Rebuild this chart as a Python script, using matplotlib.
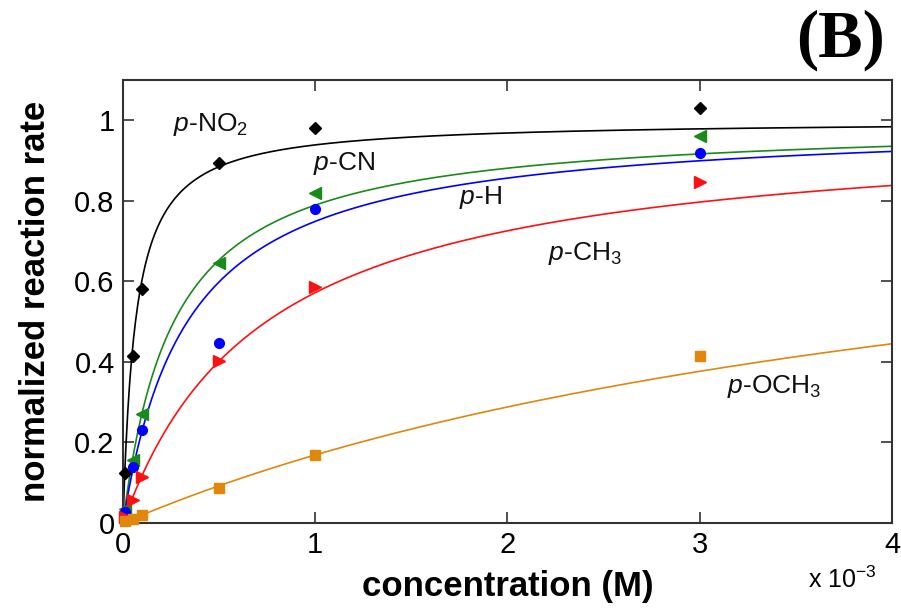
import numpy as np
import matplotlib
matplotlib.use("Agg")
import matplotlib.pyplot as plt

plt.rcParams['font.family'] = ['Liberation Sans', 'DejaVu Sans']
plt.rcParams['mathtext.fontset'] = 'custom'
plt.rcParams['mathtext.rm'] = 'Liberation Sans'
plt.rcParams['mathtext.it'] = 'Liberation Sans:italic'
plt.rcParams['mathtext.bf'] = 'Liberation Sans:bold'

# concentrations (x 10^-3 M)
conc = [0.01, 0.05, 0.1, 0.5, 1.0, 3.0]

# measured normalized rates
rate_no2 = [0.124, 0.415, 0.58, 0.895, 0.98, 1.03]
rate_cn = [0.035, 0.157, 0.27, 0.645, 0.82, 0.96]
rate_h = [0.028, 0.14, 0.232, 0.448, 0.78, 0.918]
rate_ch3 = [0.015, 0.057, 0.114, 0.403, 0.587, 0.848]
rate_och3 = [0.005, 0.01, 0.02, 0.087, 0.17, 0.415]

# Michaelis-Menten fit parameters (Vmax, Km in 1e-3 M)
fit_no2 = (1.0, 0.065)
fit_cn = (0.997, 0.263)
fit_h = (1.0, 0.335)
fit_ch3 = (0.992, 0.734)
fit_och3 = (0.977, 4.78)

labels = [r'$\it{p}$-NO$_2$', r'$\it{p}$-CN', r'$\it{p}$-H', r'$\it{p}$-CH$_3$', r'$\it{p}$-OCH$_3$']
label_pos = [(0.26, 0.99), (0.99, 0.893), (1.75, 0.808), (2.21, 0.67), (3.14, 0.338)]

colors = ['#000000', '#1a8a1a', '#0000ff', '#ff1010', '#e0870c']
markers = ['D', '<', 'o', '>', 's']
msizes = [6.5, 8.5, 7, 8.5, 7.5]

fig = plt.figure(figsize=(9.01, 6.11), dpi=100)
ax = fig.add_axes([0.1365, 0.144, 0.8535, 0.725])

xs = np.linspace(0, 4, 800)
series = [rate_no2, rate_cn, rate_h, rate_ch3, rate_och3]
fits = [fit_no2, fit_cn, fit_h, fit_ch3, fit_och3]
for ys, (vm, km), c, m, ms in zip(series, fits, colors, markers, msizes):
    ax.plot(xs, vm * xs / (km + xs), color=c, lw=1.2, zorder=2)
    ax.plot(conc, ys, linestyle='none', marker=m, color=c, ms=ms, zorder=3, clip_on=False)

for lab, (lx, ly) in zip(labels, label_pos):
    ax.text(lx, ly, lab, fontsize=19, ha='left', va='center', color='#111111')

ax.set_xlim(0, 4)
ax.set_ylim(0, 1.1)
ax.set_xticks([0, 1, 2, 3, 4])
ax.set_xticklabels(['0', '1', '2', '3', '4'])
ax.set_yticks([0, 0.2, 0.4, 0.6, 0.8, 1.0])
ax.set_yticklabels(['0', '0.2', '0.4', '0.6', '0.8', '1'])
ax.tick_params(axis='both', direction='in', top=True, right=True, length=8, width=1.2, color='#333333')
ax.tick_params(axis='x', labelsize=21, pad=6)
ax.tick_params(axis='y', labelsize=21, pad=6)
for s in ax.spines.values():
    s.set_linewidth(1.5)
    s.set_color('#333333')

ax.set_xlabel('concentration (M)', fontsize=25, fontweight='bold', labelpad=8)
ax.set_ylabel('normalized reaction rate', fontsize=25, fontweight='bold', labelpad=16)

fig.text(0.897, 0.051, r'x 10$^{-3}$', fontsize=18, ha='left', va='center')
fig.text(0.982, 0.985, '(B)', fontsize=48, fontweight='bold', family='Liberation Serif', ha='right', va='top')

fig.savefig('out.png', dpi=100)
